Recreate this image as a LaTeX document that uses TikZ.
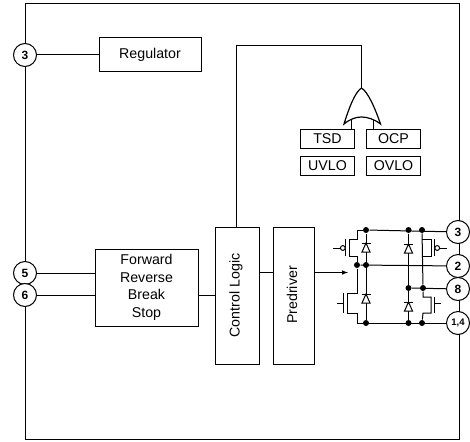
\documentclass[tikz,border=0pt]{standalone}
\usepackage{fontspec}
\setmainfont{Liberation Sans}
\usepackage{tikz}
\usetikzlibrary{arrows}

\begin{document}
\begin{tikzpicture}[x=1pt,y=-1pt,>=latex,line width=1pt,
                    font=\fontsize{14.2}{17.5}\selectfont]

  \tikzstyle{block}=[rectangle,draw,align=center,inner sep=0pt,fill=white]
  \tikzstyle{flag}=[block,minimum width=54pt,minimum height=19pt]
  \tikzstyle{pin}=[circle,draw,fill=white,inner sep=0pt,minimum size=23pt,
                   font=\fontsize{12}{14}\selectfont\bfseries]
  \tikzstyle{dot}=[circle,fill=black,inner sep=0pt,minimum size=6pt]

  \useasboundingbox (0,0) rectangle (470,441);

  \node[rectangle,draw,minimum width=434pt,minimum height=435pt] (CHIP) at (242,221.5) {};

  \node[block,minimum width=102pt,minimum height=34pt] (REG) at (150,55) {Regulator};
  \node[block,minimum width=103pt,minimum height=77pt] (DIR) at (146.5,287.5)
       {Forward \\ Reverse \\ Break \\ Stop};
  \node[block,minimum width=44pt,minimum height=137pt] (CTL) at (237,295.5) {};
  \node[rotate=90] (CTLT) at (236,295.5) {Control Logic};
  \node[block,minimum width=41pt,minimum height=137pt] (PRE) at (293.5,295.5) {};
  \node[rotate=90] (PRET) at (292,295) {Predriver};

  \node[flag] (TSD)  at (327.5,138.5)                 {TSD};
  \node[flag] (OCP)  [right of=TSD,node distance=66pt] {OCP};
  \node[flag] (UVLO) [below of=TSD,node distance=27.5pt] {UVLO};
  \node[flag] (OVLO) [right of=UVLO,node distance=66pt] {OVLO};

  % pins
  \node[pin] (P3L) at (25,55)  {3};
  \node[pin] (P5)  at (25,273) {5};
  \node[pin] (P6)  at (25,295) {6};
  \node[pin] (P3R) at (458,232) {3};
  \node[pin] (P2)  at (458,266) {2};
  \node[pin] (P8)  at (458,289) {8};
  \node[pin,font=\fontsize{9.5}{11}\selectfont\bfseries] (P14) at (458,323) {1,4};

  % junctions
  \node[dot] (A1) at (366,230) {};
  \node[dot] (A2) at (408.5,230) {};
  \node[dot] (A3) at (422,230) {};
  \node[dot] (M1) at (357,265) {};
  \node[dot] (M2) at (366,265) {};
  \node[dot] (L2) at (408.5,288) {};
  \node[dot] (L3) at (423,288) {};
  \node[dot] (B1) at (366,323) {};
  \node[dot] (B2) at (408.5,323) {};
  \node[dot] (B3) at (422,323) {};

  \coordinate (TOP) at (361.5,46);
  \coordinate (ORT) at (361.5,88);
  \coordinate (GL) at (333,248);
  \coordinate (GR) at (447,248);
  \coordinate (GLB) at (337,303);
  \coordinate (GRB) at (441,303);
  \coordinate (ARW) at (348,272.5);

  \draw (P3L) -- (REG);
  \draw (P5) -- (P5 -| DIR.west);
  \draw (P6) -- (P6 -| DIR.west);
  \draw (DIR.east |- P6) -- (CTL.west |- P6);
  \draw (CTL.east |- ARW) -- (PRE.west |- ARW);
  \draw[-{latex[scale=1.2]}] (PRE.east |- ARW) -- (ARW);
  \draw (CTLT.center |- CTL.north) |- (TOP) -- (ORT);
  \draw (351,117) -- (351,129);
  \draw (373,117) -- (373,129);

  % or gate
  \draw[fill=white,line width=1.2pt] (ORT) .. controls (355,92) and (349,108) .. (344,124)
        .. controls (350,119) and (356,117) .. (361.5,117)
        .. controls (367,117) and (374,119) .. (380.5,124)
        .. controls (375,108) and (368,92) .. (ORT) -- cycle;

  % bridge
  \draw (A1) -- (P3R);
  \draw (M1) -- (P2);
  \draw (L2) -- (P8);
  \draw (357,323) -- (P14);
  \draw (A1) -- (B1);
  \draw (A2) -- (B2);
  \draw (A3) -- (L3);
  \draw (A1) -- (357,230) -- (357,239) -- (349,239) -- (349,256) -- (357,256) -- (M1);
  \draw (M1) -- (357,293) -- (347,293) -- (347,313) -- (357,313) -- (357,323);
  \draw (422,239) -- (431,239) -- (431,256) -- (422,256);
  \draw (L3) -- (423,297) -- (431,297) -- (431,313) -- (423,313) -- (B3);

  % gates
  \draw (345.5,239) -- (345.5,256);
  \draw (434.5,239) -- (434.5,256);
  \draw (343,293) -- (343,313);
  \draw (434.5,297) -- (434.5,313);
  \draw (GLB) -- (343,303);
  \draw (GRB) -- (434.5,303);
  \draw (GL) -- (345.5,248);
  \draw (GR) -- (434.5,248);
  \foreach \x in {342.8,437.2}
    \draw[fill=white] (\x,248) circle (2.4);

  % diodes
  \foreach \x/\y in {366/243,408.5/244,366/294,408.5/302}
  {
    \draw[fill=white] (\x,\y) -- (\x-4,\y+9) -- (\x+4,\y+9) -- cycle;
    \draw (\x-4.5,\y) -- (\x+4.5,\y);
  }
\end{tikzpicture}
\end{document}
